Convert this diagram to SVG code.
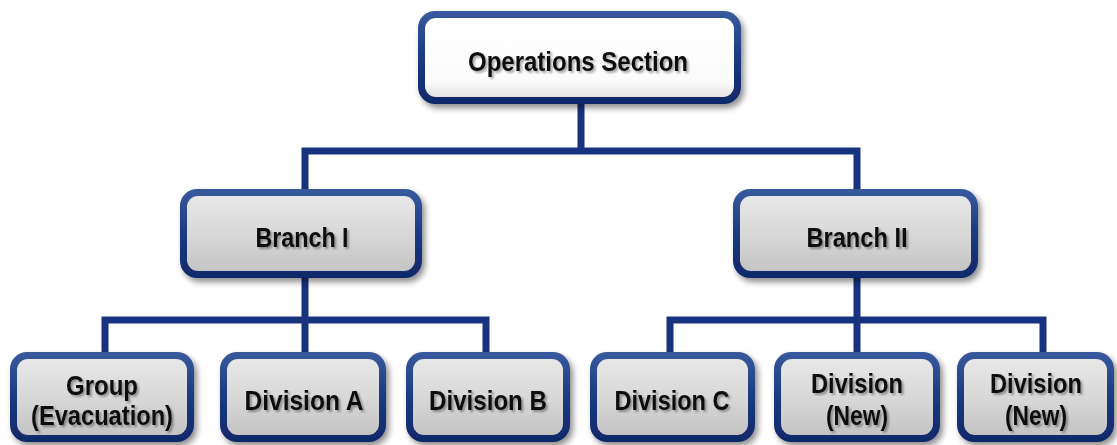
<svg xmlns="http://www.w3.org/2000/svg" width="1117" height="445" viewBox="0 0 1117 445">
  <defs>
    <linearGradient id="rim" x1="0" y1="0" x2="0" y2="1">
      <stop offset="0" stop-color="#3a5a9e"/>
      <stop offset="0.5" stop-color="#1b3a82"/>
      <stop offset="1" stop-color="#102868"/>
    </linearGradient>
    <linearGradient id="grey" x1="0" y1="0" x2="0" y2="1">
      <stop offset="0" stop-color="#e8e8e8"/>
      <stop offset="0.5" stop-color="#d8d8d8"/>
      <stop offset="1" stop-color="#c4c4c4"/>
    </linearGradient>
    <linearGradient id="white" x1="0" y1="0" x2="0" y2="1">
      <stop offset="0" stop-color="#ffffff"/>
      <stop offset="0.8" stop-color="#fbfbfb"/>
      <stop offset="1" stop-color="#e2e2e2"/>
    </linearGradient>
    <filter id="shadow" x="-10%" y="-10%" width="125%" height="130%">
      <feGaussianBlur in="SourceAlpha" stdDeviation="3"/>
      <feOffset dx="3" dy="4" result="b"/>
      <feComponentTransfer><feFuncA type="linear" slope="0.45"/></feComponentTransfer>
      <feMerge><feMergeNode/><feMergeNode in="SourceGraphic"/></feMerge>
    </filter>
    <filter id="tshadow" x="-5%" y="-20%" width="115%" height="150%">
      <feGaussianBlur in="SourceAlpha" stdDeviation="1.2"/>
      <feOffset dx="1.5" dy="2" result="b"/>
      <feComponentTransfer><feFuncA type="linear" slope="0.35"/></feComponentTransfer>
      <feMerge><feMergeNode/><feMergeNode in="SourceGraphic"/></feMerge>
    </filter>
  </defs>
  <style>
    .rim { fill: url(#rim); }
    .fill { fill: url(#grey); }
    .fillw { fill: url(#white); }
    .lbl { font-family: "Liberation Sans Narrow", "Liberation Sans", Arial, sans-serif; font-weight: bold; font-size: 28px; fill: #111; text-anchor: middle; filter: url(#tshadow); }
    .wire { fill: none; stroke: #17327e; stroke-width: 7; stroke-linecap: square; stroke-linejoin: miter; }
  </style>

  <rect width="1117" height="445" fill="#ffffff"/>

  <!-- connectors -->
  <g id="connectors">
    <path class="wire" d="M581,102 V151 M305,151 H857 M305,151 V192 M857,151 V192"/>
    <path class="wire" d="M305,278 V320 M105,320 H486 M105,320 V354 M305,320 V354 M486,320 V354"/>
    <path class="wire" d="M857,278 V320 M670,320 H1043 M670,320 V354 M857,320 V354 M1043,320 V354"/>
  </g>

  <!-- top node -->
  <g id="operations-section" filter="url(#shadow)">
    <rect class="rim" x="418" y="11" width="323" height="93" rx="17"/>
    <rect class="fillw" x="425" y="18" width="309" height="79" rx="11"/>
    <text class="lbl" x="578" y="71" font-size="29" textLength="220" lengthAdjust="spacingAndGlyphs">Operations Section</text>
  </g>

  <!-- branches -->
  <g id="branch-1" filter="url(#shadow)">
    <rect class="rim" x="180" y="189" width="242" height="89" rx="17"/>
    <rect class="fill" x="187" y="196" width="228" height="75" rx="11"/>
    <text class="lbl" x="302" y="247" textLength="93" lengthAdjust="spacingAndGlyphs">Branch I</text>
  </g>
  <g id="branch-2" filter="url(#shadow)">
    <rect class="rim" x="733" y="189" width="245" height="89" rx="17"/>
    <rect class="fill" x="740" y="196" width="231" height="75" rx="11"/>
    <text class="lbl" x="857" y="247" textLength="101" lengthAdjust="spacingAndGlyphs">Branch II</text>
  </g>

  <!-- divisions / groups -->
  <g id="group-evacuation" filter="url(#shadow)">
    <rect class="rim" x="10" y="352" width="184" height="90" rx="17"/>
    <rect class="fill" x="17" y="359" width="170" height="76" rx="11"/>
    <text class="lbl" x="102" y="395" textLength="72" lengthAdjust="spacingAndGlyphs">Group</text>
    <text class="lbl" x="102" y="425" textLength="142" lengthAdjust="spacingAndGlyphs">(Evacuation)</text>
  </g>
  <g id="division-a" filter="url(#shadow)">
    <rect class="rim" x="220" y="352" width="166" height="90" rx="17"/>
    <rect class="fill" x="227" y="359" width="152" height="76" rx="11"/>
    <text class="lbl" x="304" y="410" textLength="119" lengthAdjust="spacingAndGlyphs">Division A</text>
  </g>
  <g id="division-b" filter="url(#shadow)">
    <rect class="rim" x="406" y="352" width="164" height="90" rx="17"/>
    <rect class="fill" x="413" y="359" width="150" height="76" rx="11"/>
    <text class="lbl" x="488" y="410" textLength="118" lengthAdjust="spacingAndGlyphs">Division B</text>
  </g>
  <g id="division-c" filter="url(#shadow)">
    <rect class="rim" x="590" y="352" width="165" height="90" rx="17"/>
    <rect class="fill" x="597" y="359" width="151" height="76" rx="11"/>
    <text class="lbl" x="672" y="410" textLength="115" lengthAdjust="spacingAndGlyphs">Division C</text>
  </g>
  <g id="division-new-1" filter="url(#shadow)">
    <rect class="rim" x="774" y="352" width="166" height="90" rx="17"/>
    <rect class="fill" x="781" y="359" width="152" height="76" rx="11"/>
    <text class="lbl" x="857" y="393" textLength="92" lengthAdjust="spacingAndGlyphs">Division</text>
    <text class="lbl" x="857" y="425" textLength="62" lengthAdjust="spacingAndGlyphs">(New)</text>
  </g>
  <g id="division-new-2" filter="url(#shadow)">
    <rect class="rim" x="957" y="352" width="157" height="90" rx="17"/>
    <rect class="fill" x="964" y="359" width="143" height="76" rx="11"/>
    <text class="lbl" x="1036" y="393" textLength="92" lengthAdjust="spacingAndGlyphs">Division</text>
    <text class="lbl" x="1036" y="425" textLength="62" lengthAdjust="spacingAndGlyphs">(New)</text>
  </g>
</svg>
